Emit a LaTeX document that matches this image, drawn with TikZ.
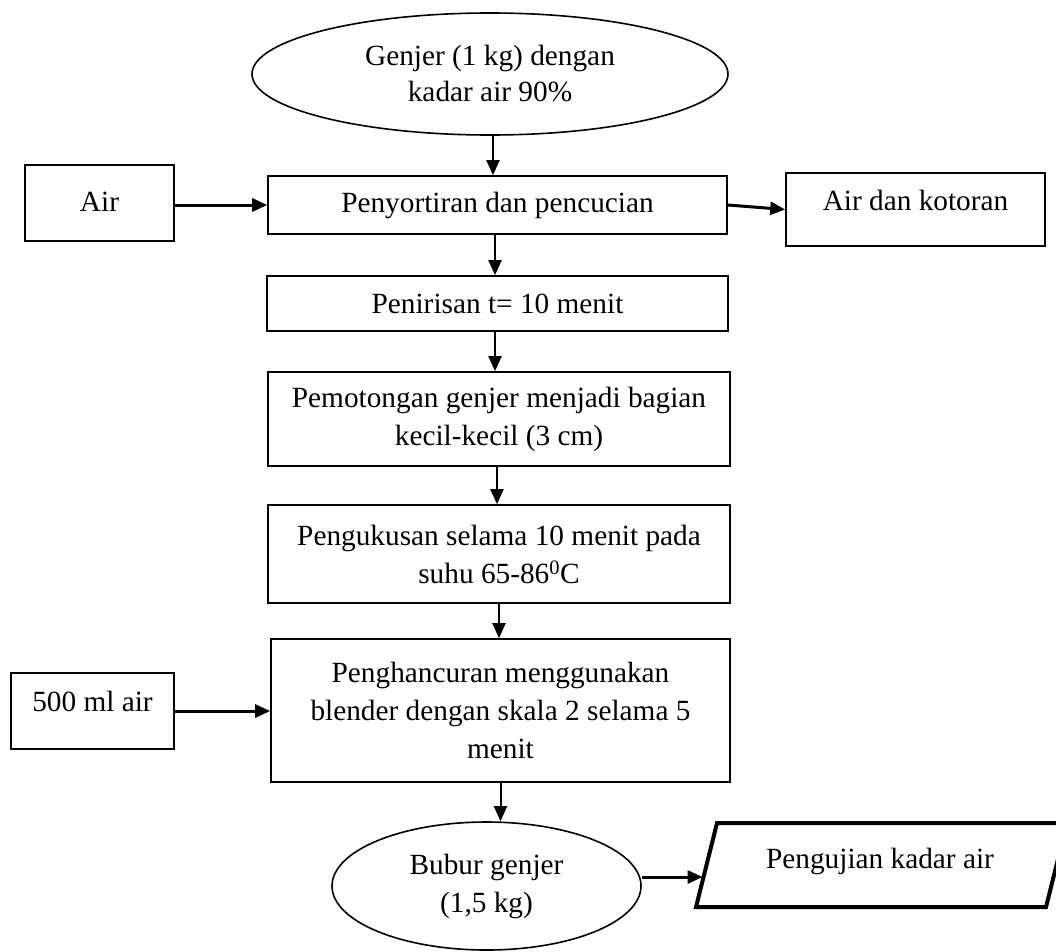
\documentclass[tikz,border=0pt]{standalone}
\usepackage{fontspec}
\setmainfont{Liberation Serif}
\usetikzlibrary{arrows.meta,shapes.geometric}
\begin{document}
\begin{tikzpicture}[x=1pt,y=-1pt,
  txt/.style={inner sep=0pt, align=center, font=\fontsize{29.3}{38}\selectfont},
  box/.style={txt, draw, rectangle, line width=1.6pt},
  oval/.style={txt, draw, ellipse, line width=1.6pt},
  arr/.style={-{Triangle[length=15pt,width=13pt]}, line width=2pt},
  harr/.style={arr, line width=3pt}]
\useasboundingbox (0,0) rectangle (1056,951);

% main column
\node[oval, minimum width=476pt, minimum height=122pt,
      font=\fontsize{29.3}{36}\selectfont] (ell) at (490,74)
      {Genjer (1 kg) dengan\\kadar air 90\%};
\node[box, minimum width=459pt, minimum height=58pt] (main) at (497.5,205)
      {Penyortiran dan pencucian};
\node[box, minimum width=461pt, minimum height=55pt] (pen) at (497.5,303.5)
      {Penirisan t= 10 menit};
\node[box, minimum width=462pt, minimum height=94pt] (pot) at (499,419)
      {Pemotongan genjer menjadi bagian\\kecil-kecil (3 cm)};
\node[box, minimum width=462pt, minimum height=98pt] (kus) at (499,554)
      {Pengukusan selama 10 menit pada\\suhu 65-86\textsuperscript{0}C};
\node[box, minimum width=459pt, minimum height=143pt] (han) at (500.5,710.5)
      {Penghancuran menggunakan\\blender dengan skala 2 selama 5\\menit};
\node[oval, minimum width=309pt, minimum height=128pt] (bub) at (486.5,886)
      {Bubur genjer\\(1,5 kg)};

% side boxes
\node[box, minimum width=149pt, minimum height=76pt, text height=20pt, text depth=4pt]
      (air) at (99.5,203) {Air};
\node[box, minimum width=259pt, minimum height=73pt, text height=20pt, text depth=19pt]
      (kot) at (915.5,209.5) {Air dan kotoran};
\node[box, minimum width=163pt, minimum height=76pt, text height=20pt, text depth=20pt]
      (air2) at (92.5,711) {500 ml air};

% output parallelogram
\coordinate (p1) at (717,823);
\coordinate (p2) at (1067,823);
\coordinate (p3) at (1046,907);
\coordinate (p4) at (696,907);
\draw[line width=4pt, line join=miter] (p1) -- (p2) -- (p3) -- (p4) -- cycle;
\node[txt, text height=20pt, text depth=16pt] (uji) at (880,866) {Pengujian kadar air};
\coordinate (ujiin) at (702.5,877);

% vertical connectors
\draw[arr] ([xshift=3pt]ell.south) -- ([xshift=-4.5pt]main.north);
\draw[arr] ([xshift=-2.5pt]main.south) -- ([xshift=-2.5pt]pen.north);
\draw[arr] ([xshift=-2.5pt]pen.south) -- ([xshift=-4pt]pot.north);
\draw[arr] ([xshift=-2pt]pot.south) -- ([xshift=-2pt]kus.north);
\draw[arr] (kus.south) -- ([xshift=-1.5pt]han.north);
\draw[arr] (han.south) -- (han.south |- bub.north);

% horizontal connectors
\draw[harr] (air.east |- main.west) -- (main.west);
\draw[harr] (main.east) -- (kot.west);
\draw[harr] (air2.east) -- (air2.east -| han.west);
\draw[harr] (bub.east |- ujiin) -- (ujiin);
\end{tikzpicture}
\end{document}
